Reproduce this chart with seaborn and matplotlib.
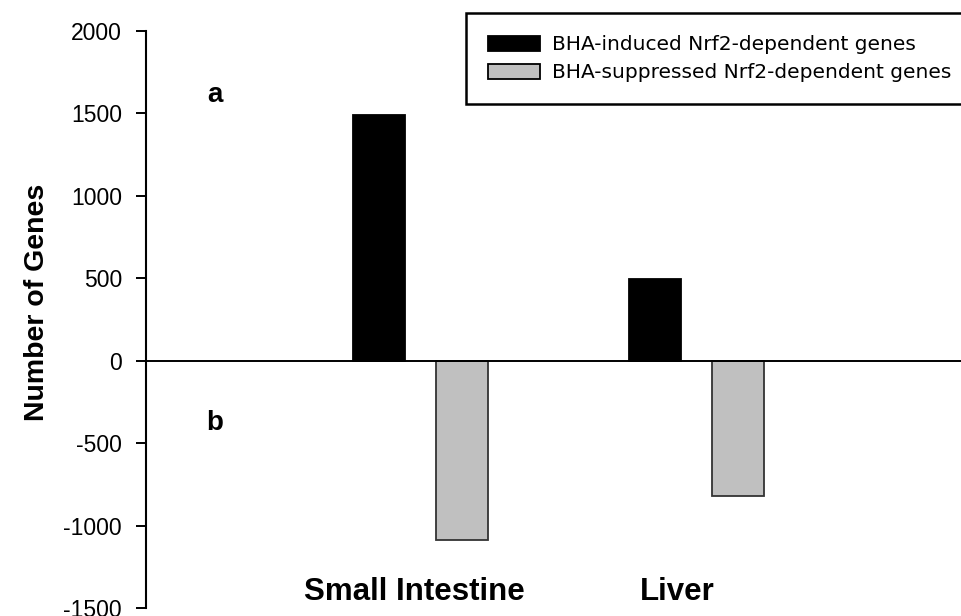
import pandas as pd
import matplotlib.pyplot as plt
import seaborn as sns
from matplotlib.patches import Patch

tissues = ["Small Intestine", "Liver"]
series = ["BHA-induced Nrf2-dependent genes", "BHA-suppressed Nrf2-dependent genes"]
induced = [1490, 495]
suppressed = [-1085, -820]
colors = ["#000000", "#c0c0c0"]
edges = ["#000000", "#333333"]
yticks = [-1500, -1000, -500, 0, 500, 1000, 1500, 2000]

df = pd.DataFrame({
    "tissue": tissues * 2,
    "series": [series[0]] * 2 + [series[1]] * 2,
    "genes": induced + suppressed,
})

sns.set_style("white")
plt.rcParams["font.family"] = ["Liberation Sans", "DejaVu Sans"]
plt.rcParams["text.color"] = "black"
plt.rcParams["axes.labelcolor"] = "black"
plt.rcParams["ytick.color"] = "black"

fig = plt.figure(figsize=(9.62, 6.16), dpi=100)
ax = fig.add_axes([146 / 962, 8 / 616, 816 / 962, 577 / 616])

sns.barplot(data=df, x="tissue", y="genes", hue="series", palette=colors,
            width=0.6014, gap=0.3735, errorbar=None, legend=False, ax=ax)
for cont, ec in zip(ax.containers, edges):
    for bar in cont:
        bar.set_edgecolor(ec)
        bar.set_linewidth(1.3)

ax.set_xlim(-0.996, 1.96)
ax.set_ylim(-1500, 2000)
ax.set_yticks(yticks)
ax.set_yticklabels([str(t) for t in yticks], fontsize=16.5)
ax.tick_params(axis="y", direction="out", length=7.2, width=1.4, pad=10, left=True,
               colors="black")
ax.set_xticks([])
ax.set_xlabel("")

for s in ["top", "right", "bottom"]:
    ax.spines[s].set_visible(False)
ax.spines["left"].set_linewidth(1.5)
ax.spines["left"].set_color("black")
ax.axhline(0, color="black", lw=1.4, zorder=3)

ax.set_ylabel("Number of Genes", fontsize=20.5, fontweight="bold", color="black")
ax.yaxis.set_label_coords(-0.118, 0.529)

# panel letters
ax.text(-0.746, 1611, "a", fontsize=20, fontweight="bold", ha="center", va="center")
ax.text(-0.746, -378, "b", fontsize=20, fontweight="bold", ha="center", va="center")

# category labels at bottom
label_shift = [-0.025, -0.072]
for i, (name, dx) in enumerate(zip(tissues, label_shift)):
    ax.text(i + dx, -1403, name, fontsize=22.5, fontweight="bold", ha="center", va="center")

handles = [Patch(facecolor=c, edgecolor="black", linewidth=1.3) for c in colors]
leg = fig.legend(handles, series, loc="upper left", bbox_to_anchor=(466 / 962, 1 - 13 / 616),
                 frameon=True, fancybox=False, framealpha=1, edgecolor="black",
                 prop={"family": "DejaVu Sans", "size": 14.5}, handlelength=2.55,
                 handleheight=0.78, handletextpad=0.62, labelspacing=0.45,
                 borderpad=1.1, borderaxespad=0)
leg.get_frame().set_linewidth(1.8)

fig.savefig("out.png", dpi=100)
plt.close()
